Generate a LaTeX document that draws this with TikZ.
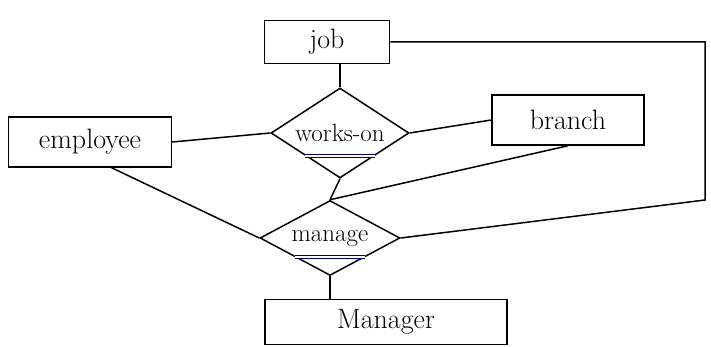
\documentclass[tikz,border=0pt]{standalone}
\usetikzlibrary{shapes.geometric}
\begin{document}
\begin{tikzpicture}[x=1pt,y=-1pt,line width=1.5pt,
        entity/.style={draw,rectangle,inner sep=2pt,font=\fontsize{28}{32}\selectfont},
        rel/.style={draw,diamond,aspect=1.6,inner sep=0pt,font=\fontsize{25}{29}\selectfont},
        total/.style={draw=blue!40!black,double,double distance=2.5pt,line width=1pt}]
        \useasboundingbox (0,0) rectangle (711,347);
        \node[entity,minimum width=125,minimum height=43](job) at (327,42){job};
        \node[entity,minimum width=163,minimum height=50](emp) at (90,142){employee};
        \node[entity,minimum width=152,minimum height=50](br) at (568,120){branch};
        \node[entity,minimum width=242,minimum height=45](mgr) at (386,322){Manager};
        \node[rel,minimum width=138,minimum height=90](wo) at (340,133){works-on};
        \node[rel,minimum width=140,minimum height=75](man) at (330,238){manage};
        \coordinate (c1) at (705,200);
        \draw (wo.north |- job.south)--(wo.north);
        \draw (emp.east)--(wo.west);
        \draw (wo.east)--(br.west);
        \draw (wo.south)--(man.north);
        \draw (br.south)--(man.north);
        \draw (emp.-50)--(man.west);
        \draw (man.east)--(c1)|-(job.east);
        \draw (man.south)--(man.south |- mgr.north);
        \draw[total](wo.south west)--(wo.south east);
        \draw[total](man.south west)--(man.south east);
    \end{tikzpicture}
\end{document}
